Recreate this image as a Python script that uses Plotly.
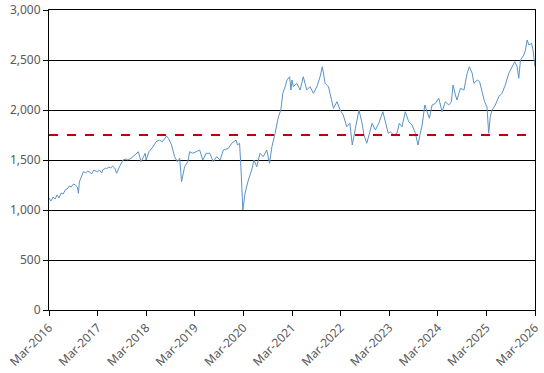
import plotly.graph_objects as go

dates = [
    "2016-03-01", "2016-03-15", "2016-04-01", "2016-04-15", "2016-05-01", "2016-05-15",
    "2016-06-01", "2016-06-15", "2016-07-01", "2016-07-15", "2016-08-01", "2016-08-15",
    "2016-09-01", "2016-09-15", "2016-10-01", "2016-10-08", "2016-10-15", "2016-11-01",
    "2016-11-15", "2016-12-01", "2016-12-15", "2017-01-01", "2017-01-15", "2017-02-01",
    "2017-02-15", "2017-03-01", "2017-03-15", "2017-04-01", "2017-04-08", "2017-05-01",
    "2017-05-08", "2017-05-22", "2017-06-08", "2017-06-22", "2017-07-08", "2017-07-22",
    "2017-08-08", "2017-08-22", "2017-09-08", "2017-10-01", "2017-10-15", "2017-11-08",
    "2017-11-22", "2017-12-15", "2018-01-01", "2018-01-22", "2018-02-22", "2018-03-01",
    "2018-03-22", "2018-04-22", "2018-05-15", "2018-06-08", "2018-07-01", "2018-08-01",
    "2018-08-15", "2018-09-08", "2018-10-01", "2018-10-22", "2018-11-08", "2018-11-22",
    "2018-12-15", "2019-01-08", "2019-01-22", "2019-02-15", "2019-03-12", "2019-04-07",
    "2019-05-01", "2019-05-26", "2019-06-23", "2019-07-18", "2019-08-13", "2019-09-08",
    "2019-10-02", "2019-11-09", "2019-12-04", "2020-01-06", "2020-01-16", "2020-02-01",
    "2020-02-11", "2020-02-18", "2020-02-26", "2020-03-13", "2020-04-07", "2020-05-02",
    "2020-05-19", "2020-06-09", "2020-07-04", "2020-07-28", "2020-08-23", "2020-09-13",
    "2020-10-01", "2020-10-25", "2020-11-19", "2020-12-07", "2020-12-22", "2021-01-09",
    "2021-01-22", "2021-02-11", "2021-02-21", "2021-03-01", "2021-03-11", "2021-04-06",
    "2021-05-01", "2021-05-25", "2021-06-20", "2021-07-14", "2021-08-09", "2021-09-04",
    "2021-09-28", "2021-10-15", "2021-11-05", "2021-11-30", "2021-12-18", "2022-01-07",
    "2022-02-02", "2022-02-26", "2022-03-21", "2022-04-16", "2022-05-10", "2022-05-28",
    "2022-06-18", "2022-07-17", "2022-08-07", "2022-08-24", "2022-09-14", "2022-10-09",
    "2022-10-24", "2022-11-18", "2022-12-13", "2023-01-13", "2023-02-02", "2023-02-22",
    "2023-03-09", "2023-04-04", "2023-04-29", "2023-05-16", "2023-06-06", "2023-06-30",
    "2023-07-26", "2023-08-20", "2023-09-14", "2023-10-04", "2023-10-21", "2023-11-04",
    "2023-11-24", "2023-12-11", "2023-12-28", "2024-01-18", "2024-02-12", "2024-03-08",
    "2024-04-02", "2024-04-26", "2024-05-22", "2024-06-11", "2024-06-23", "2024-07-11",
    "2024-07-23", "2024-08-06", "2024-08-18", "2024-09-13", "2024-10-07", "2024-10-24",
    "2024-11-14", "2024-11-27", "2024-12-22", "2025-01-09", "2025-01-29", "2025-02-15",
    "2025-03-05", "2025-03-18", "2025-03-30", "2025-04-12", "2025-05-07", "2025-06-02",
    "2025-06-26", "2025-07-21", "2025-08-16", "2025-09-10", "2025-09-30", "2025-10-18",
    "2025-10-30", "2025-11-12", "2025-12-07", "2025-12-19", "2026-01-01", "2026-01-14",
    "2026-02-03", "2026-02-14", "2026-03-01",
]

values = [
    1120, 1090, 1130, 1110, 1150, 1120,
    1170, 1160, 1200, 1210, 1240, 1230,
    1260, 1250, 1230, 1167, 1280, 1350,
    1385, 1370, 1390, 1380, 1360, 1400,
    1390, 1380, 1400, 1370, 1400, 1420,
    1410, 1430, 1420, 1440, 1420, 1367,
    1420, 1460, 1500, 1510, 1500, 1520,
    1533, 1560, 1583, 1483, 1567, 1500,
    1583, 1633, 1683, 1700, 1683, 1740,
    1717, 1650, 1533, 1483, 1517, 1283,
    1433, 1483, 1583, 1567, 1583, 1600,
    1500, 1567, 1567, 1483, 1533, 1500,
    1600, 1617, 1667, 1700, 1650, 1667,
    1433, 1200, 1000, 1167, 1300, 1400,
    1500, 1433, 1567, 1533, 1600, 1467,
    1633, 1767, 1933, 2000, 2167, 2233,
    2300, 2333, 2200, 2300, 2233, 2267,
    2200, 2333, 2200, 2233, 2167, 2233,
    2333, 2433, 2267, 2233, 2117, 2017,
    2083, 2000, 1950, 1833, 1867, 1650,
    1800, 2000, 1883, 1750, 1667, 1800,
    1867, 1800, 1867, 1983, 1867, 1767,
    1783, 1750, 1767, 1867, 1833, 1983,
    1883, 1850, 1767, 1650, 1767, 1850,
    2050, 1983, 1917, 2050, 2067, 2117,
    1983, 2083, 2050, 2083, 2250, 2150,
    2100, 2167, 2217, 2200, 2367, 2433,
    2367, 2267, 2300, 2283, 2183, 2083,
    2033, 1767, 1933, 2000, 2050, 2133,
    2167, 2250, 2367, 2433, 2483, 2433,
    2317, 2500, 2550, 2600, 2700, 2650,
    2667, 2600, 2433,
]

reference_level = 1750

tick_dates = ["2016-03-01", "2017-03-01", "2018-03-01", "2019-03-01", "2020-03-01",
              "2021-03-01", "2022-03-01", "2023-03-01", "2024-03-01", "2025-03-01",
              "2026-03-01"]
tick_labels = ["Mar-2016", "Mar-2017", "Mar-2018", "Mar-2019", "Mar-2020",
               "Mar-2021", "Mar-2022", "Mar-2023", "Mar-2024", "Mar-2025",
               "Mar-2026"]

fig = go.Figure()
fig.add_trace(go.Scatter(
    x=dates, y=values, mode="lines",
    line=dict(color="#5B93C4", width=1),
    showlegend=False,
))
fig.add_trace(go.Scatter(
    x=[tick_dates[0], tick_dates[-1]], y=[reference_level, reference_level],
    mode="lines",
    line=dict(color="#C00000", width=2, dash="dash"),
    showlegend=False,
))

fig.update_layout(
    width=544, height=373,
    margin=dict(l=49, r=9, t=10, b=63),
    paper_bgcolor="white", plot_bgcolor="white",
    font=dict(family="Noto Sans, DejaVu Sans, sans-serif", size=12, color="#595959"),
)
fig.update_xaxes(
    type="date",
    range=[tick_dates[0], tick_dates[-1]],
    tickvals=tick_dates, ticktext=tick_labels,
    tickangle=-45,
    automargin=False,
    showgrid=False,
    showline=True, linecolor="black", linewidth=1, mirror=True,
    ticks="outside", ticklen=5, tickcolor="black",
    zeroline=False,
)
fig.update_yaxes(
    range=[0, 3000],
    tickvals=[0, 500, 1000, 1500, 2000, 2500, 3000],
    tickformat=",d",
    automargin=False,
    showgrid=True, gridcolor="black", gridwidth=1,
    showline=True, linecolor="black", linewidth=1, mirror=True,
    ticks="outside", ticklen=5, tickcolor="black",
    zeroline=False,
)

fig.write_html(
    "out.html",
    config={"displayModeBar": False},
    post_script="document.body.style.margin='0';document.body.style.overflow='hidden';",
)
